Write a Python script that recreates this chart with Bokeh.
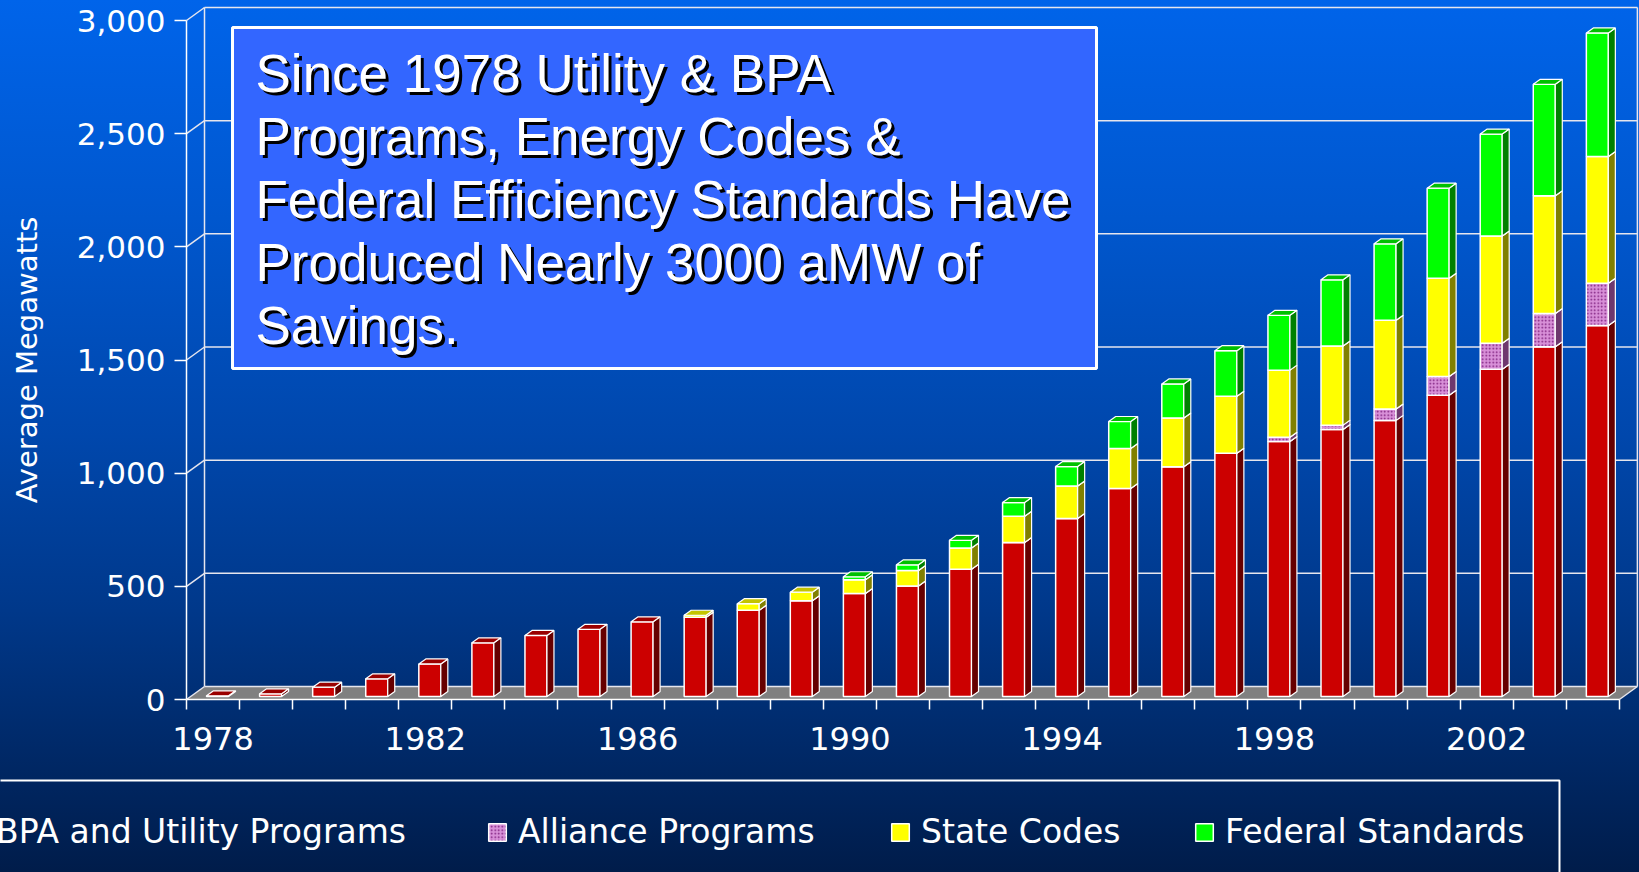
import numpy as np
from bokeh.plotting import figure
from bokeh.models import FixedTicker, NumeralTickFormatter, Legend, LegendItem, Range1d
from bokeh.core.properties import value
from bokeh.embed import file_html
from bokeh.resources import INLINE

# ---------------- data ----------------
years = list(range(1978, 2005))
bpa_utility = [3, 12, 41, 78, 144, 237, 270, 297, 330, 350, 381, 423, 455, 488,
               562, 680, 786, 919, 1015, 1075, 1127, 1180, 1220, 1331, 1446, 1545, 1639]
alliance = [0] * 20 + [18, 19, 50, 83, 115, 147, 187]
state_codes = [0] * 9 + [9, 29, 38, 61, 69, 94, 116, 144, 177, 216, 252, 297, 350,
                         392, 434, 474, 520, 560]
federal_standards = [0] * 12 + [13, 25, 34, 61, 86, 119, 150, 201, 242, 292, 338,
                                398, 450, 493, 546]
series_names = ["BPA and Utility Programs", "Alliance Programs", "State Codes",
                "Federal Standards"]
y_ticks = [0, 500, 1000, 1500, 2000, 2500, 3000]
x_label_years = [1978, 1982, 1986, 1990, 1994, 1998, 2002]
y_title = "Average Megawatts"
headline = ["Since 1978 Utility & BPA", "Programs, Energy Codes &",
            "Federal Efficiency Standards Have", "Produced Nearly 3000 aMW of",
            "Savings."]

# ---------------- geometry (pixel layout -> data) ----------------
W, H = 1639, 872
X0, Y0 = 186.0, 699.0
PX_CAT = 53.07
PX_MW = 0.22633


def xd(px):
    return years[0] - 0.5 + (px - X0) / PX_CAT


def yd(py):
    return (Y0 - py) / PX_MW


def dx(px):
    return px / PX_CAT


def dy(px):
    return px / PX_MW


p = figure(width=W, height=H, x_range=Range1d(xd(0), xd(W)), y_range=Range1d(yd(H), yd(0)),
           output_backend="svg", toolbar_location=None,
           min_border_left=0, min_border_right=0, min_border_top=0, min_border_bottom=0)
p.background_fill_color = None
p.border_fill_color = None
p.outline_line_color = None
p.xgrid.visible = False
p.ygrid.visible = False

x_lo, x_hi = years[0] - 0.5, years[-1] + 0.5
FDX, FDY = dx(18), dy(13)
wall = dict(line_color="#E6E6EE", line_width=1.5)

# floor
p.patch([x_lo, x_hi, x_hi + FDX, x_lo + FDX], [0, 0, FDY, FDY],
        fill_color="#808080", line_color=None)
# back wall grid lines
n = len(y_ticks)
p.segment(x0=[x_lo + FDX] * n, y0=[v + FDY for v in y_ticks],
          x1=[x_hi + FDX] * n, y1=[v + FDY for v in y_ticks], **wall)
# connectors front axis -> wall
p.segment(x0=[x_lo] * n, y0=y_ticks, x1=[x_lo + FDX] * n, y1=[v + FDY for v in y_ticks], **wall)
# wall verticals and floor right edge
p.segment(x0=[x_lo + FDX, x_hi + FDX, x_hi],
          y0=[FDY, FDY, 0],
          x1=[x_lo + FDX, x_hi + FDX, x_hi + FDX],
          y1=[y_ticks[-1] + FDY, y_ticks[-1] + FDY, FDY], **wall)

# ---------------- 3D stacked bars ----------------
BASE = dy(3)
SHIFT = dx(4.5)
HALF = dx(11)
BDX, BDY = dx(7), dy(5)
styles = [
    dict(front="#CC0000", side="#660000", top="#9A0000", hatch=None),
    dict(front="#D890D8", side="#6E386E", top="#A868A8", hatch="dot"),
    dict(front="#FFFF00", side="#808000", top="#C4C400", hatch=None),
    dict(front="#00FF00", side="#008000", top="#00C000", hatch=None),
]
all_series = [bpa_utility, alliance, state_codes, federal_standards]
cum = np.zeros(len(years))
yrs = np.array(years, dtype=float)
front_renderers = []
for vals, st in zip(all_series, styles):
    v = np.array(vals, dtype=float)
    m = v > 0
    b = BASE + cum[m]
    t = b + v[m]
    xc = yrs[m] + SHIFT
    left, right = xc - HALF, xc + HALF
    kw = dict(fill_color=st["front"], line_color="white", line_width=1.5)
    if st["hatch"]:
        kw.update(hatch_pattern=st["hatch"], hatch_color="#7A1A7A", hatch_scale=3.5,
                  hatch_weight=1.2)
    r = p.quad(left=left, right=right, bottom=b, top=t, **kw)
    front_renderers.append(r)
    sx = [[rr, rr + BDX, rr + BDX, rr] for rr in right]
    sy = [[bb, bb + BDY, tt + BDY, tt] for bb, tt in zip(b, t)]
    p.patches(sx, sy, fill_color=st["side"], line_color="white", line_width=1.2)
    tx = [[ll, rr, rr + BDX, ll + BDX] for ll, rr in zip(left, right)]
    ty = [[tt, tt, tt + BDY, tt + BDY] for tt in t]
    p.patches(tx, ty, fill_color=st["top"], line_color="white", line_width=1.2)
    cum = cum + v

# ---------------- headline box ----------------
p.quad(left=[xd(232)], right=[xd(1096)], top=[yd(27)], bottom=[yd(368)],
       fill_color="#3366FF", line_color="white", line_width=3)
hx = [xd(255)] * len(headline)
hy = [yd(73 + 63 * i) for i in range(len(headline))]
txt = dict(text_font=value("Liberation Sans"), text_font_size="53px",
           text_align="left", text_baseline="alphabetic")
p.text(x=hx, y=hy, text=headline, text_color="black", x_offset=3, y_offset=3, **txt)
p.text(x=hx, y=hy, text=headline, text_color="white", **txt)

# ---------------- axes ----------------
font = "DejaVu Sans"
xa = p.xaxis[0]
xa.fixed_location = 0
xa.bounds = (x_lo, x_hi)
xa.ticker = FixedTicker(ticks=x_label_years, minor_ticks=[y - 0.5 for y in years] + [x_hi])
xa.major_tick_out = 0
xa.major_tick_in = 0
xa.minor_tick_out = 10
xa.minor_tick_in = 0
xa.minor_tick_line_color = "white"
xa.minor_tick_line_width = 1.5
xa.axis_line_color = "white"
xa.axis_line_width = 1.5
xa.major_label_text_color = "white"
xa.major_label_text_font = font
xa.major_label_text_font_size = "32px"
xa.major_label_standoff = 17

ya = p.yaxis[0]
ya.fixed_location = x_lo
ya.bounds = (0, y_ticks[-1])
ya.ticker = FixedTicker(ticks=y_ticks)
ya.formatter = NumeralTickFormatter(format="0,0")
ya.major_tick_out = 12
ya.major_tick_in = 0
ya.minor_tick_line_color = None
ya.major_tick_line_color = "white"
ya.major_tick_line_width = 1.5
ya.axis_line_color = "white"
ya.axis_line_width = 1.5
ya.major_label_text_color = "white"
ya.major_label_text_font = font
ya.major_label_text_font_size = "31px"
ya.major_label_standoff = 9
ya.axis_label = y_title
ya.axis_label_text_color = "white"
ya.axis_label_text_font = font
ya.axis_label_text_font_size = "29px"
ya.axis_label_text_font_style = "normal"
ya.axis_label_standoff = 30

# ---------------- legend ----------------
p.quad(left=[xd(-10)], right=[xd(1559)], top=[yd(780)], bottom=[yd(920)],
       fill_color=None, line_color="white", line_width=2)
glyph_left_px = [-36, 486, 889, 1193]
for name, r, gx in zip(series_names, front_renderers, glyph_left_px):
    leg = Legend(items=[LegendItem(label=name, renderers=[r])],
                 location=(gx, H - 851), orientation="horizontal",
                 background_fill_alpha=0, border_line_alpha=0,
                 padding=0, margin=0, spacing=0,
                 glyph_width=22, glyph_height=22, label_height=22, label_standoff=10,
                 label_text_color="white", label_text_font=font,
                 label_text_font_size="33px")
    p.add_layout(leg, "center")

TEMPLATE = """
{% block postamble %}
<style>
html, body { margin: 0 !important; padding: 0 !important; overflow: hidden;
  background: linear-gradient(180deg, #0064EA 0%, #0057CE 25%, #0047AC 50%,
  #00388A 70%, #002A6A 85%, #001C4A 100%); }
html { height: 100%; }
</style>
{% endblock %}
"""

open("out.html", "w").write(file_html(p, INLINE, template=TEMPLATE))
